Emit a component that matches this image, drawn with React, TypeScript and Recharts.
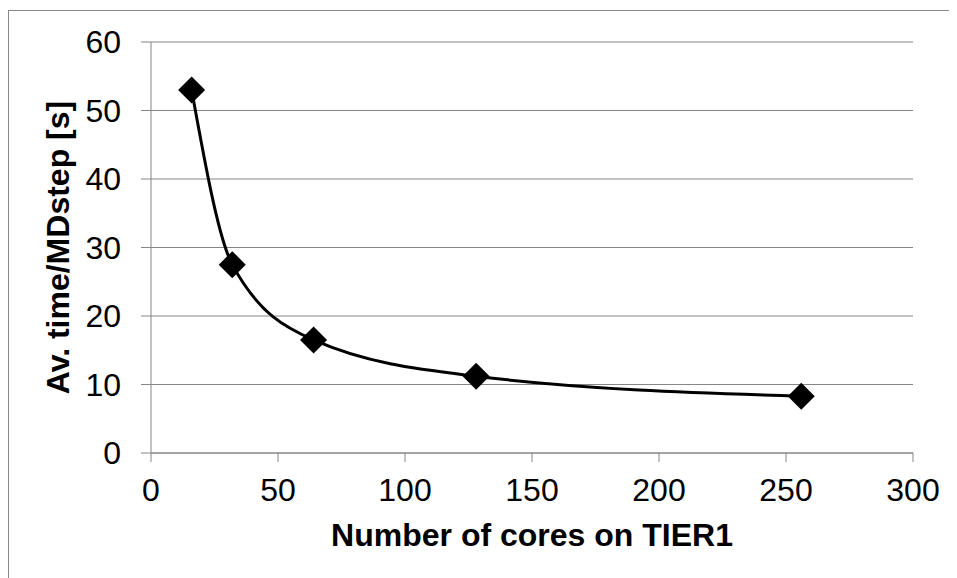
import React from "react";
import {
  LineChart,
  Line,
  XAxis,
  YAxis,
  CartesianGrid,
  Label,
} from "recharts";

const cores = [16, 32, 64, 128, 256];
const avgTime = [53, 27.5, 16.5, 11.2, 8.3];
const xTicks = [0, 50, 100, 150, 200, 250, 300];
const yTicks = [0, 10, 20, 30, 40, 50, 60];

const data = cores.map((c, i) => ({ cores: c, time: avgTime[i] }));

const FONT = "'Liberation Sans', Arial, sans-serif";
const GRID = "#868686";

// filled diamond marker like Excel's
function Diamond(props: any) {
  const { cx, cy } = props;
  if (cx == null || cy == null) return null;
  const r = 13.5;
  return (
    <path
      d={`M${cx},${cy - r} L${cx + r},${cy} L${cx},${cy + r} L${cx - r},${cy} Z`}
      fill="#000"
    />
  );
}

export default function App() {
  return (
    <div
      style={{
        position: "relative",
        width: 957,
        height: 578,
        margin: "-8px 0 0 -8px",
        background: "#fff",
        overflow: "hidden",
      }}
    >
      <div
        style={{
          position: "absolute",
          left: 8,
          top: 10,
          width: 970,
          height: 590,
          borderLeft: "1.5px solid #888",
          borderTop: "1.5px solid #888",
        }}
      />
      <div style={{ position: "absolute", left: 0, top: 0 }}>
        <LineChart
          width={957}
          height={578}
          data={data}
          margin={{ top: 42, right: 44, bottom: 0, left: 0 }}
        >
          <CartesianGrid vertical={false} stroke={GRID} strokeWidth={1} />
          <XAxis
            dataKey="cores"
            type="number"
            domain={[0, 300]}
            ticks={xTicks}
            height={125}
            stroke={GRID}
            tickSize={9}
            tickMargin={16}
            tick={{ fill: "#000", fontSize: 32, fontFamily: FONT }}
          >
            <Label
              value="Number of cores on TIER1"
              position="insideBottom"
              offset={32}
              style={{
                fill: "#000",
                fontSize: 32,
                fontWeight: "bold",
                fontFamily: FONT,
              }}
            />
          </XAxis>
          <YAxis
            type="number"
            domain={[0, 60]}
            ticks={yTicks}
            width={151}
            stroke={GRID}
            tickSize={10}
            tickMargin={20}
            tick={{ fill: "#000", fontSize: 32, fontFamily: FONT }}
          >
            <Label
              value="Av. time/MDstep [s]"
              angle={-90}
              position="insideLeft"
              offset={58}
              style={{
                fill: "#000",
                fontSize: 32,
                fontWeight: "bold",
                fontFamily: FONT,
                textAnchor: "middle",
              }}
            />
          </YAxis>
          <Line
            dataKey="time"
            type="monotone"
            stroke="#000"
            strokeWidth={3}
            dot={<Diamond />}
            activeDot={false}
            isAnimationActive={false}
          />
        </LineChart>
      </div>
    </div>
  );
}
